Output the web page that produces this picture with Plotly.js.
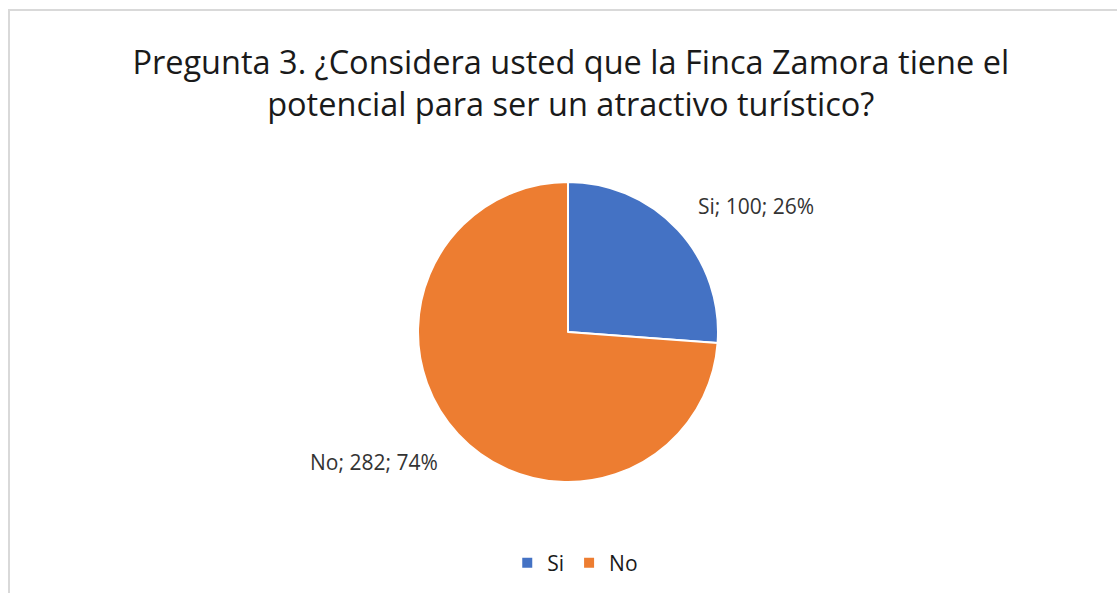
<!DOCTYPE html>
<html><head><meta charset="utf-8">
<script src="https://cdn.plot.ly/plotly-3.0.1.min.js"></script>
<style>
html,body{margin:0;padding:0;background:#fff;overflow:hidden;}
#frame{position:absolute;left:8px;top:9px;width:1130px;height:600px;border:2px solid #d9d9d9;box-sizing:border-box;}
#chart{position:absolute;left:0;top:0;width:1117px;height:593px;}
</style></head>
<body>
<div id="frame"></div>
<div id="chart"></div>
<script>
const categories = ["Si", "No"];
const counts = [100, 282];
const colors = ["#4472C4", "#ED7D31"];
const titleText = "Pregunta 3. ¿Considera usted que la Finca Zamora tiene el<br>potencial para ser un atractivo turístico?";

const W = 1117, H = 593;
const cx = 568, cy = 332, r = 150;
const FONT = "'Open Sans', Lato, sans-serif";

const trace = {
  type: "pie",
  labels: categories,
  values: counts,
  sort: false,
  direction: "clockwise",
  rotation: 0,
  marker: {colors: colors, line: {color: "#ffffff", width: 2}},
  textinfo: "none",
  automargin: false,
  hoverinfo: "label+value+percent",
  domain: {x: [(cx - r) / W, (cx + r) / W], y: [(H - cy - r) / H, (H - cy + r) / H]}
};

// data labels placed around the pie (best-fit style), text built from the data
const total = counts.reduce((a, b) => a + b, 0);
const annotations = [];
let acc = 0;
counts.forEach((v, i) => {
  const mid = (acc + v / 2) / total * 360 + 9;
  acc += v;
  const rad = mid * Math.PI / 180;
  const d = 226 + i * 8;
  const px = cx + d * Math.sin(rad);
  const py = cy - d * Math.cos(rad);
  annotations.push({
    xref: "paper", yref: "paper",
    x: px / W, y: 1 - py / H,
    xanchor: "center", yanchor: "middle",
    showarrow: false,
    text: categories[i] + "; " + v + "; " + Math.round(v / total * 100) + "%",
    font: {family: FONT, size: 21, color: "#333333"}
  });
});

const layout = {
  width: W, height: H,
  margin: {l: 0, r: 0, t: 0, b: 0},
  paper_bgcolor: "rgba(0,0,0,0)",
  plot_bgcolor: "rgba(0,0,0,0)",
  title: {
    text: titleText,
    font: {family: FONT, size: 32.5, color: "#1a1a1a"},
    x: 0.511, xanchor: "center",
    y: 1 - 74 / H, yanchor: "middle", yref: "container"
  },
  annotations: annotations,
  showlegend: true,
  legend: {
    orientation: "h",
    x: 0.515, xanchor: "center",
    y: 1 - 563 / H, yanchor: "middle",
    font: {family: FONT, size: 21, color: "#1a1a1a"},
    itemwidth: 30
  }
};

Plotly.newPlot("chart", [trace], layout, {displayModeBar: false, staticPlot: true});
</script>
</body></html>
